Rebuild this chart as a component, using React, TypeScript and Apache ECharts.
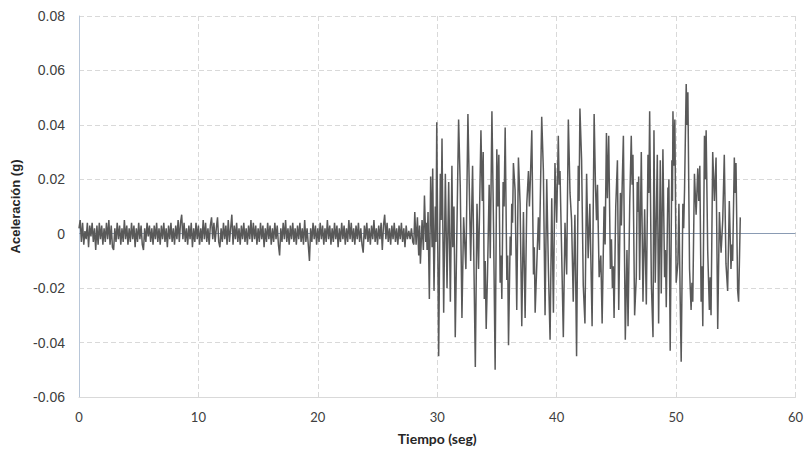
import React, { useEffect, useRef } from "react";
import * as echarts from "echarts";

// Pre-event noise, sampled every 0.1 s from t = 0 s
const NOISE_DT = 0.1;
const noiseAccel = [
  0.002, 0.005, -0.003, 0.004, -0.004, 0.001, -0.002, 0.004, -0.005, 0.003, -0.001, 0.004, -0.003, 0.002, -0.006, 0.003, -0.004, 0.004, -0.002, 0.003,
  -0.004, 0.002, -0.003, 0.004, -0.002, 0.005, -0.004, 0.003, -0.005, -0.006, 0.002, -0.003, 0.004, -0.002, 0.003, -0.004, 0.002, -0.003, 0.005, -0.002,
  0.003, -0.004, 0.002, -0.003, 0.004, -0.002, 0.003, -0.005, 0.002, -0.003, 0.004, -0.002, 0.003, -0.004, -0.006, 0.002, -0.003, 0.004, -0.001, 0.003,
  -0.003, 0.002, -0.004, 0.003, -0.002, 0.004, -0.003, 0.002, -0.004, 0.003, -0.002, 0.004, -0.003, 0.002, -0.005, 0.003, -0.002, 0.004, -0.003, 0.002,
  -0.004, 0.003, -0.002, 0.005, -0.003, 0.004, 0.007, -0.002, 0.004, -0.003, 0.002, -0.004, 0.003, -0.002, 0.004, -0.005, 0.002, -0.003, 0.004, -0.002,
  0.003, -0.004, 0.002, -0.003, 0.005, -0.002, 0.004, -0.003, 0.002, -0.004, 0.003, 0.006, -0.002, 0.004, -0.003, 0.002, 0.006, -0.003, -0.005, 0.002,
  -0.003, 0.004, -0.002, 0.003, -0.004, 0.005, -0.003, 0.002, 0.007, -0.004, 0.003, -0.002, 0.004, -0.003, 0.002, -0.004, 0.003, -0.002, 0.004, -0.003,
  0.002, -0.004, 0.003, -0.002, 0.005, -0.003, 0.004, -0.002, 0.003, -0.004, 0.002, -0.003, 0.004, -0.002, 0.003, -0.005, 0.002, -0.003, 0.004, -0.002,
  0.003, -0.004, 0.002, -0.003, 0.004, -0.002, 0.003, -0.004, -0.008, 0.002, -0.003, 0.004, -0.002, 0.005, -0.003, 0.002, -0.004, 0.003, -0.002, 0.004,
  -0.003, 0.002, -0.004, 0.003, -0.002, 0.004, -0.003, 0.002, -0.004, 0.005, -0.003, 0.002, -0.004, -0.010, 0.002, -0.003, 0.004, -0.002, 0.003, -0.004,
  0.002, -0.003, 0.004, -0.002, 0.003, -0.004, 0.002, -0.003, 0.005, -0.002, 0.003, -0.004, 0.002, -0.003, 0.004, -0.002, 0.003, -0.005, 0.002, -0.003,
  0.004, -0.002, 0.003, -0.004, 0.002, -0.003, 0.005, -0.002, 0.004, -0.003, 0.002, -0.004, 0.003, -0.002, 0.004, -0.003, 0.002, -0.004, -0.007, 0.003,
  -0.002, 0.004, -0.003, 0.002, -0.004, 0.003, -0.002, 0.005, -0.003, 0.002, -0.004, 0.003, -0.002, 0.004, -0.006, 0.003, 0.007, -0.002, 0.004, -0.003,
  0.002, -0.004, 0.003, -0.002, 0.004, -0.003, 0.002, -0.004, 0.003, -0.002, 0.004, -0.003, 0.002, -0.005, 0.003, -0.002,
];

// Strong-motion phase: peaks (time in s, acceleration in g)
const strongTime = [
  27.62, 27.73, 27.84, 27.95, 28.04, 28.12, 28.23, 28.34, 28.45, 28.52, 28.59, 28.73, 28.84, 28.93, 29.04, 29.1, 29.15, 29.23, 29.34, 29.45,
  29.57, 29.62, 29.73, 29.84, 29.9, 29.96, 30.12, 30.26, 30.33, 30.4, 30.54, 30.68, 30.82, 30.96, 31.1, 31.23, 31.3, 31.4, 31.51, 31.79,
  31.93, 32.07, 32.21, 32.4, 32.57,
  32.8, 32.96, 33.19, 33.33, 33.46, 33.66, 33.77, 33.85, 33.94, 34.02, 34.1, 34.21, 34.35, 34.44, 34.58, 34.72, 34.85, 34.99, 35.08, 35.16,
  35.27, 35.34, 35.41, 35.52, 35.6, 35.69, 35.83, 35.9, 35.97, 36.11, 36.18, 36.24, 36.31, 36.38, 36.52, 36.66, 36.8, 36.94, 37.08, 37.22,
  37.36, 37.5,
  37.64, 37.72, 37.8, 37.92, 38.06, 38.13, 38.2, 38.34, 38.47, 38.56, 38.75, 38.89, 39.03, 39.17, 39.31, 39.45, 39.59, 39.73, 39.86, 40.0,
  40.14, 40.21, 40.28, 40.42, 40.56, 40.7, 40.84, 40.98, 41.12, 41.25, 41.39, 41.53, 41.67, 41.81, 41.88, 41.95, 42.09, 42.23, 42.37, 42.51,
  42.64, 42.78, 42.97, 43.14, 43.25, 43.34, 43.42, 43.56, 43.7, 43.81, 43.97, 44.06, 44.17, 44.25, 44.36, 44.5, 44.59, 44.67, 44.74, 44.81,
  44.95, 45.09, 45.2, 45.34, 45.42, 45.5, 45.59, 45.75, 45.89, 45.98, 46.12, 46.25, 46.32, 46.39, 46.53, 46.67, 46.75, 46.81, 46.87, 46.95,
  47.09, 47.23, 47.37, 47.51,
  47.65, 47.72, 47.79, 47.93, 48.07, 48.15, 48.26, 48.43, 48.54, 48.68, 48.76, 48.9, 49.04, 49.11, 49.18, 49.32, 49.36, 49.4, 49.51, 49.65,
  49.7, 49.74, 49.82, 49.9, 50.01, 50.15, 50.24, 50.35, 50.43, 50.57, 50.64, 50.71, 50.85, 50.92, 50.99, 51.13, 51.26, 51.33, 51.4, 51.54,
  51.68, 51.82, 51.9, 51.99, 52.1, 52.17, 52.24, 52.38, 52.46, 52.52, 52.65, 52.79, 52.86, 52.93, 53.07, 53.21, 53.35, 53.49, 53.63, 53.77,
  53.91, 54.04, 54.18, 54.32, 54.46, 54.6, 54.67, 54.74, 54.88, 54.95, 55.02, 55.16, 55.24, 55.38,
];
const strongAccel = [
  0.001, -0.002, 0.002, -0.003, -0.004, 0.008, -0.004, 0.006, -0.008, 0.003, -0.011, 0.005, -0.006, 0.014, -0.003, 0.004, -0.006, 0.008, -0.024, 0.021,
  -0.005, 0.024, -0.021, 0.01, -0.003, 0.041, -0.045, 0.022, 0.005, 0.035, -0.029, 0.022, -0.02, 0.019, -0.025, 0.025, -0.005, 0.01, -0.038, 0.042,
  0.017, -0.031, 0.006, -0.013, 0.044,
  -0.01, 0.025, -0.049, 0.011, -0.013, 0.038, 0.012, 0.03, -0.024, -0.01, -0.035, -0.015, 0.018, -0.009, 0.045, 0.001, -0.05, 0.031, 0.01, 0.029,
  -0.018, -0.008, -0.024, 0.019, 0.01, 0.039, -0.017, -0.008, -0.041, -0.001, -0.008, 0.011, 0.004, 0.026, 0.016, -0.028, 0.028, 0.011, -0.034, 0.008,
  -0.031, 0.011,
  0.023, 0.01, 0.02, 0.038, -0.015, -0.005, -0.029, -0.011, 0.006, -0.006, 0.043, 0.023, -0.03, 0.02, -0.013, -0.039, 0.013, -0.029, 0.026, 0.004,
  0.036, 0.018, 0.023, -0.007, -0.038, 0.004, -0.015, 0.042, 0.015, 0.005, -0.025, 0.007, -0.045, 0.025, 0.012, 0.046, 0.027, -0.019, -0.033, 0.022,
  -0.009, 0.011, -0.034, 0.044, 0.018, 0.005, 0.018, -0.016, -0.008, -0.033, 0.01, -0.004, 0.037, 0.013, 0.036, -0.013, -0.002, -0.02, -0.012, -0.031,
  0.01, 0.027, -0.028, 0.015, 0.003, 0.02, 0.036, -0.039, -0.006, -0.034, 0.011, 0.036, 0.018, 0.029, -0.03, -0.016, 0.019, 0.008, 0.021, -0.017,
  0.03, -0.025, 0.009, -0.026,
  0.029, 0.015, 0.045, -0.018, -0.038, 0.038, -0.018, 0.029, -0.033, 0.027, -0.022, 0.031, -0.016, -0.006, -0.027, 0.017, 0.008, 0.02, -0.043, 0.027,
  0.012, 0.045, 0.025, 0.042, -0.018, -0.011, 0.011, -0.025, -0.047, 0.011, 0.002, 0.016, 0.055, 0.04, 0.052, -0.013, -0.028, -0.018, -0.025, 0.022,
  0.007, 0.024, 0.012, 0.025, -0.025, -0.012, -0.034, 0.036, 0.02, 0.038, -0.006, -0.028, -0.016, -0.03, 0.03, 0.012, 0.028, -0.035, 0.008, -0.007,
  0.005, 0.029, -0.011, -0.021, 0.012, -0.013, -0.004, -0.01, 0.028, 0.015, 0.026, -0.021, -0.025, 0.006,
];

const xTicks = { min: 0, max: 60, interval: 10 };
const yTicks = { min: -0.06, max: 0.08, interval: 0.02 };
const xTitle = "Tiempo (seg)";
const yTitle = "Aceleración (g)";

export default function App() {
  const ref = useRef<HTMLDivElement>(null);
  useEffect(() => {
    if (!ref.current) return;
    const chart = echarts.init(ref.current, null, { renderer: "svg" });
    const data: [number, number][] = [];
    noiseAccel.forEach((a, i) => data.push([+(i * NOISE_DT).toFixed(2), a]));
    strongTime.forEach((t, i) => data.push([t, strongAccel[i]]));
    const xFont = "Lato, 'Open Sans', sans-serif";
    const yFont = "'Liberation Sans', Arial, sans-serif";
    chart.setOption({
      animation: false,
      grid: { left: 79, right: 8, top: 16, bottom: 53, containLabel: false },
      xAxis: {
        type: "value",
        min: xTicks.min,
        max: xTicks.max,
        interval: xTicks.interval,
        name: xTitle,
        nameLocation: "middle",
        nameGap: 34,
        nameTextStyle: { fontFamily: xFont, fontWeight: "bold", fontSize: 14, color: "#262626" },
        axisLine: { show: true, onZero: false, lineStyle: { color: "#d9d9d9", width: 1 } },
        axisTick: { show: false },
        axisLabel: { fontFamily: xFont, fontSize: 13, color: "#404040", margin: 13 },
        splitLine: { show: true, lineStyle: { color: "#d9d9d9", type: [5, 3], width: 1 } },
      },
      yAxis: {
        type: "value",
        min: yTicks.min,
        max: yTicks.max,
        interval: yTicks.interval,
        name: yTitle,
        nameLocation: "middle",
        nameGap: 57,
        nameTextStyle: { fontFamily: yFont, fontWeight: "bold", fontSize: 13, color: "#262626" },
        axisLine: { show: true, onZero: false, lineStyle: { color: "#b8c6d8", width: 1 } },
        axisTick: { show: false },
        axisLabel: {
          fontFamily: yFont,
          fontSize: 14,
          color: "#404040",
          margin: 14,
          formatter: (v: number) => (Math.abs(v) < 1e-9 ? "0" : v.toFixed(2)),
        },
        splitLine: { show: true, lineStyle: { color: "#d9d9d9", type: [5, 3], width: 1 } },
      },
      series: [
        {
          type: "line",
          data,
          showSymbol: false,
          symbol: "none",
          lineStyle: { color: "#595959", width: 1.5 },
          markLine: {
            silent: true,
            symbol: "none",
            label: { show: false },
            lineStyle: { color: "#8a9bb3", type: "solid", width: 1 },
            data: [{ yAxis: 0 }],
            z: 1,
          },
        },
      ],
    });
    return () => chart.dispose();
  }, []);
  return (
    <div
      ref={ref}
      style={{ position: "absolute", left: 0, top: 0, width: 806, height: 450, background: "#fff" }}
    />
  );
}
